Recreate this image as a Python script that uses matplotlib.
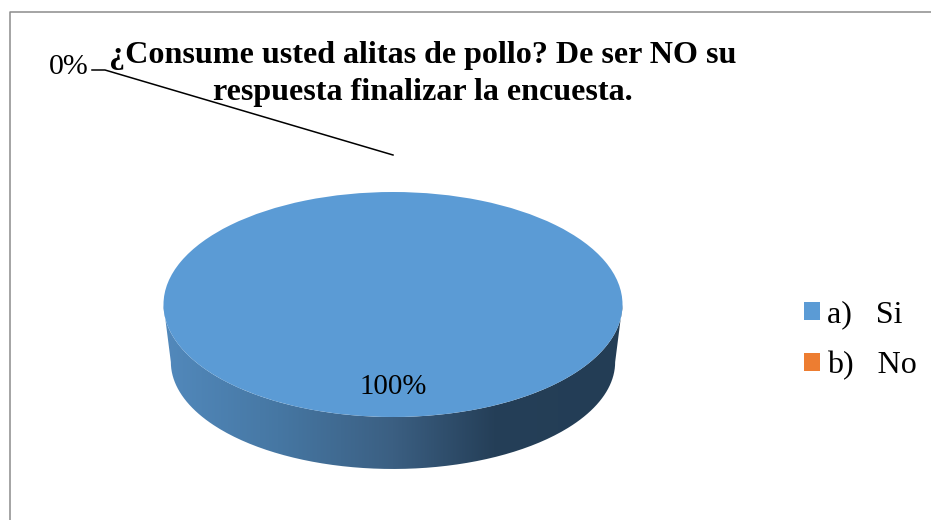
import numpy as np
import matplotlib
matplotlib.use('Agg')
import matplotlib.pyplot as plt
from matplotlib.patches import PathPatch
from matplotlib.path import Path
from matplotlib.colors import LinearSegmentedColormap

# Data
categories = ['a)   Si', 'b)   No']
values = [100, 0]
colors = ['#5b9bd5', '#ed7d31']
title = '¿Consume usted alitas de pollo? De ser NO su\nrespuesta finalizar la encuesta.'

plt.rcParams['font.family'] = ['Liberation Serif', 'DejaVu Serif']

W, H = 931, 520
CX, CY, RX, RY = 393, 304.5, 229.5, 112.5


# pixel position in the reference -> pie data coordinates
def px(x, y):
    return (x - CX) / RX, (CY - y) / RY


fig = plt.figure(figsize=(W / 100, H / 100), dpi=100)
ax = fig.add_axes([0, 0, 1, 1])

wedges, _ = ax.pie(values, colors=colors, startangle=90, counterclock=False, radius=1)
ax.axis('off')
for w in wedges:
    w.set_zorder(3)

# Side wall of the 3D pie, gradient clipped to the wall outline
t = np.linspace(np.pi, 2 * np.pi, 200)
top_x, top_y = np.cos(t), np.sin(t)
low_x = 0.968 * np.cos(t[::-1])
low_y = -0.511 + 0.951 * np.sin(t[::-1])
wall = np.vstack([np.column_stack([top_x, top_y]), [[1, 0]],
                  np.column_stack([low_x, low_y]), [[-1, 0]]])
wall_patch = PathPatch(Path(wall), facecolor='none', edgecolor='none', transform=ax.transData)
ax.add_patch(wall_patch)
shade = LinearSegmentedColormap.from_list('shade', [
    (0.0, '#5289bc'), (0.25, '#4677a3'), (0.5, '#3b5f82'), (0.72, '#253f58'), (1.0, '#233d55')])
img = ax.imshow(np.linspace(0, 1, 256)[None, :], cmap=shade, aspect='auto', zorder=2,
                extent=[-1, 1, -1.5, 0.2])
img.set_clip_path(wall_patch)
ax.set_aspect('auto')
ax.set_xlim(px(0, 0)[0], px(W, 0)[0])
ax.set_ylim(px(0, H)[1], px(0, 0)[1])

# Chart frame
ax.plot(*zip(px(10.5, H), px(10.5, 11.5), px(W, 11.5)), color='#8c8c8c', lw=1.1, zorder=1)

# Title
ax.text(*px(423, 74), title, ha='center', va='center', fontsize=23.1, fontweight='bold',
        linespacing=1.37, zorder=5)

# Data labels and leader line
ax.text(*px(393, 387), f'{values[0]}%', ha='center', va='center', fontsize=20.8, zorder=5)
ax.text(*px(68.5, 67), f'{values[1]}%', ha='center', va='center', fontsize=21.5, zorder=5)
ax.plot(*zip(px(92, 70), px(105, 70), px(393, 155)), color='black', lw=1.1, zorder=4)

# Legend
ax.legend(wedges, categories, loc='center left', bbox_to_anchor=(804 / W, 1 - 340.5 / H),
          frameon=False, fontsize=23, handlelength=0.5, handleheight=0.5,
          handletextpad=0.22, labelspacing=0.69, borderpad=0, borderaxespad=0,
          bbox_transform=fig.transFigure)

fig.savefig('out.png', dpi=100)
